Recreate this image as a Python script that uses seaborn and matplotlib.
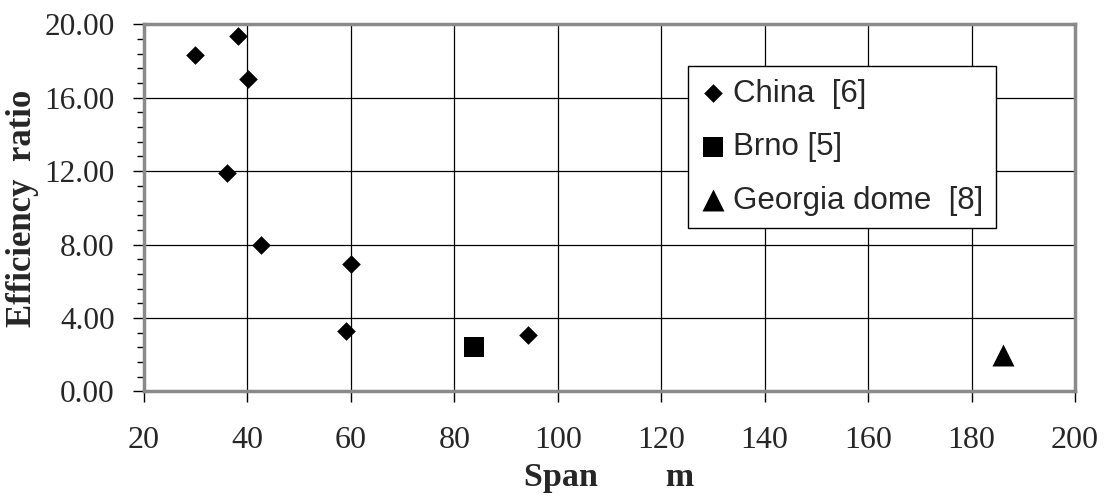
import matplotlib
matplotlib.use("Agg")
import matplotlib.pyplot as plt
import pandas as pd
import seaborn as sns
from matplotlib.ticker import FormatStrFormatter, MultipleLocator

# data
china_span = [29.9, 38.2, 40.2, 36.0, 42.6, 60.0, 59.0, 94.2]
china_ratio = [18.35, 19.35, 17.0, 11.92, 8.0, 6.96, 3.32, 3.05]
brno_span = [83.8]
brno_ratio = [2.45]
georgia_span = [186.0]
georgia_ratio = [2.0]

labels = ["China  [6]", "Brno [5]", "Georgia dome  [8]"]

df = pd.concat(
    [
        pd.DataFrame({"span": china_span, "ratio": china_ratio, "source": labels[0]}),
        pd.DataFrame({"span": brno_span, "ratio": brno_ratio, "source": labels[1]}),
        pd.DataFrame({"span": georgia_span, "ratio": georgia_ratio, "source": labels[2]}),
    ],
    ignore_index=True,
)

sns.set_style("white")
plt.rcParams["font.family"] = ["Liberation Serif", "DejaVu Serif"]

fig = plt.figure(figsize=(11.04, 4.96), dpi=100)
ax = fig.add_axes([0.1304, 0.2107, 0.8433, 0.7403])

styles = {labels[0]: ("D", 90), labels[1]: ("s", 200), labels[2]: ("^", 250)}
for name, (marker, size) in styles.items():
    sns.scatterplot(
        data=df[df["source"] == name],
        x="span",
        y="ratio",
        marker=marker,
        s=size,
        color="black",
        edgecolor="black",
        linewidth=0,
        label=name,
        ax=ax,
        zorder=3,
    )

ax.set_xlim(20, 200)
ax.set_ylim(0, 20)
ax.xaxis.set_major_locator(MultipleLocator(20))
ax.yaxis.set_major_locator(MultipleLocator(4))
ax.yaxis.set_minor_locator(MultipleLocator(0.8))
ax.yaxis.set_major_formatter(FormatStrFormatter("%.2f"))
ax.grid(True, which="major", color="black", linewidth=0.9)
ax.set_axisbelow(True)

ax.tick_params(axis="both", which="major", direction="out", length=8, width=1,
               color="black", left=True, bottom=True)
ax.tick_params(axis="y", which="minor", direction="out", length=5, width=1, color="black", left=True)
ax.tick_params(axis="y", which="major", labelsize=22.5, pad=13)
ax.tick_params(axis="x", which="major", labelsize=23, pad=17)

for side in ["left", "bottom", "top", "right"]:
    ax.spines[side].set_color("#8a8a8a")
    ax.spines[side].set_linewidth(2.5)

ax.set_xlabel("Span        m", fontsize=24.5, fontweight="bold", labelpad=5)
ax.set_ylabel("Efficiency  ratio", fontsize=25, fontweight="bold", labelpad=4)

leg = ax.legend(
    loc="upper left",
    bbox_to_anchor=(0.584, 0.886),
    frameon=True,
    fancybox=False,
    edgecolor="black",
    framealpha=1,
    markerscale=1.0,
    handletextpad=0.25,
    handlelength=0.8,
    borderpad=0.4,
    borderaxespad=0,
    labelspacing=0.75,
    prop={"family": "Liberation Sans", "size": 22.5},
)
leg.get_frame().set_linewidth(1.0)

fig.savefig("out.png", dpi=100)
